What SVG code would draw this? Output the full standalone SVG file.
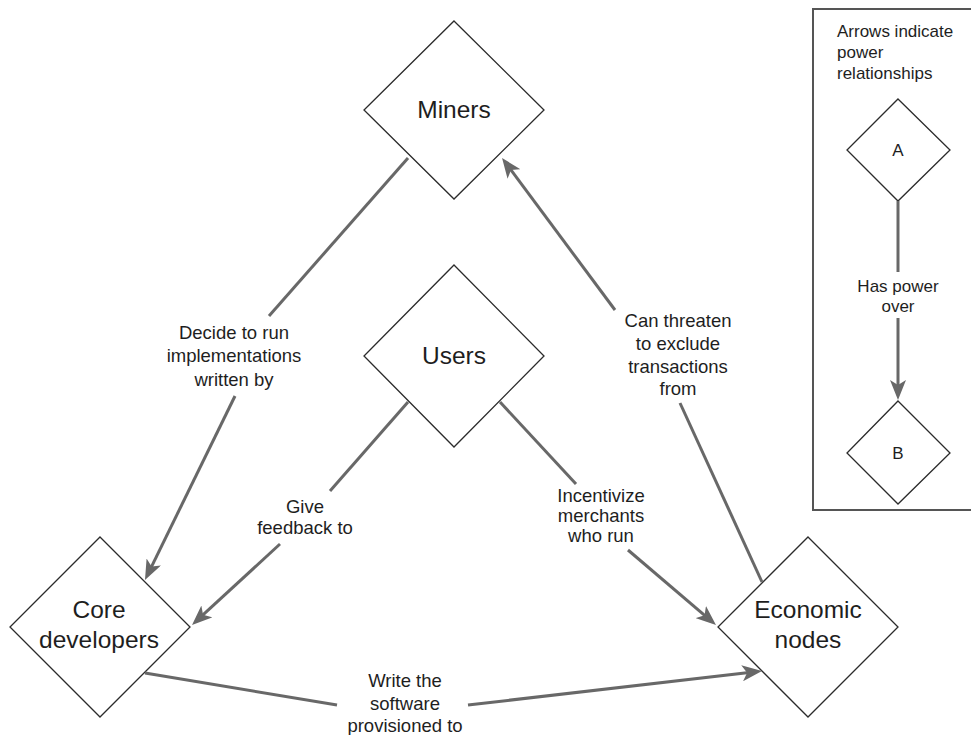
<svg xmlns="http://www.w3.org/2000/svg" width="971" height="735" viewBox="0 0 971 735">
  <style>
    .node { fill: #ffffff; stroke: #2b2b2b; stroke-width: 1.3; }
    .title { font-family: "Liberation Sans", Arial, Helvetica, sans-serif; font-size: 24.5px; fill: #1e1e1e; text-anchor: middle; }
    .lbl { font-family: "Liberation Sans", Arial, Helvetica, sans-serif; font-size: 18.5px; fill: #1e1e1e; text-anchor: middle; }
    .small { font-family: "Liberation Sans", Arial, Helvetica, sans-serif; font-size: 17px; fill: #1e1e1e; }
    .edge { fill: none; stroke: #686868; stroke-width: 3; }
    .arrow { marker-end: url(#head); }
  </style>
  <defs>
    <marker id="head" markerUnits="userSpaceOnUse" markerWidth="20" markerHeight="16" viewBox="0 0 20 16" refX="7" refY="8" orient="auto">
      <path d="M0,0 L20,8 L0,16 L5,8 Z" fill="#686868"/>
    </marker>
  </defs>
  <rect width="971" height="735" fill="#ffffff"/>

  <!-- legend frame -->
  <g id="legend">
    <rect x="813" y="9" width="170" height="501" fill="none" stroke="#555555" stroke-width="2"/>
    <text class="small" x="837" y="37">Arrows indicate</text>
    <text class="small" x="837" y="58">power</text>
    <text class="small" x="837" y="79">relationships</text>
  </g>
  <g id="legend-a">
    <polygon class="node" points="898,99 950,150 898,201 847,150"/>
    <text class="small" x="898" y="156" text-anchor="middle" font-size="16">A</text>
  </g>
  <g id="legend-b">
    <polygon class="node" points="898,401 950,453 898,504 847,453"/>
    <text class="small" x="898" y="459" text-anchor="middle" font-size="16">B</text>
  </g>

  <!-- nodes -->
  <g id="miners">
    <polygon class="node" points="454,21 544,110 454,199 364,110"/>
    <text class="title" x="454" y="118">Miners</text>
  </g>
  <g id="users">
    <polygon class="node" points="454,265 544,356 454,447 364,356"/>
    <text class="title" x="454" y="364">Users</text>
  </g>
  <g id="core-developers">
    <polygon class="node" points="100,537 190,627 100,717 10,627"/>
    <text class="title" x="99" y="618">Core</text>
    <text class="title" x="99" y="648">developers</text>
  </g>
  <g id="economic-nodes">
    <polygon class="node" points="808,537 898,627 808,717 718,627"/>
    <text class="title" x="808" y="618">Economic</text>
    <text class="title" x="808" y="648">nodes</text>
  </g>

  <!-- connectors, each split around its label -->
  <g id="connectors">
    <!-- Miners -> Core developers -->
    <path class="edge" d="M408,158 L269,316"/>
    <path class="edge arrow" d="M235,396 L150.7,568.3"/>
    <text class="lbl" x="234" y="339">Decide to run</text>
    <text class="lbl" x="234" y="362">implementations</text>
    <text class="lbl" x="234" y="386">written by</text>

    <!-- Users -> Core developers -->
    <path class="edge" d="M408,402 L330,491"/>
    <path class="edge arrow" d="M280,544 L201.6,616.2"/>
    <text class="lbl" x="305" y="513">Give</text>
    <text class="lbl" x="305" y="534">feedback to</text>

    <!-- Users -> Economic nodes -->
    <path class="edge" d="M500,402 L576,484"/>
    <path class="edge arrow" d="M628,550 L706.1,616.6"/>
    <text class="lbl" x="601" y="502">Incentivize</text>
    <text class="lbl" x="601" y="522">merchants</text>
    <text class="lbl" x="601" y="542">who run</text>

    <!-- Economic nodes -> Miners -->
    <path class="edge" d="M762,582 L680,403"/>
    <path class="edge arrow" d="M615,310 L509.8,168.4"/>
    <text class="lbl" x="678" y="327">Can threaten</text>
    <text class="lbl" x="678" y="350">to exclude</text>
    <text class="lbl" x="678" y="373">transactions</text>
    <text class="lbl" x="678" y="395">from</text>

    <!-- Core developers -> Economic nodes -->
    <path class="edge" d="M145,673 L337,705"/>
    <path class="edge arrow" d="M468,705 L749.1,672.5"/>
    <text class="lbl" x="405" y="687">Write the</text>
    <text class="lbl" x="405" y="710">software</text>
    <text class="lbl" x="405" y="732">provisioned to</text>

    <!-- legend: A -> B -->
    <path class="edge" d="M898,201 L898,272"/>
    <path class="edge arrow" d="M898,318 L898,387"/>
    <text class="small" x="898" y="292" text-anchor="middle">Has power</text>
    <text class="small" x="898" y="312" text-anchor="middle">over</text>
  </g>
</svg>
